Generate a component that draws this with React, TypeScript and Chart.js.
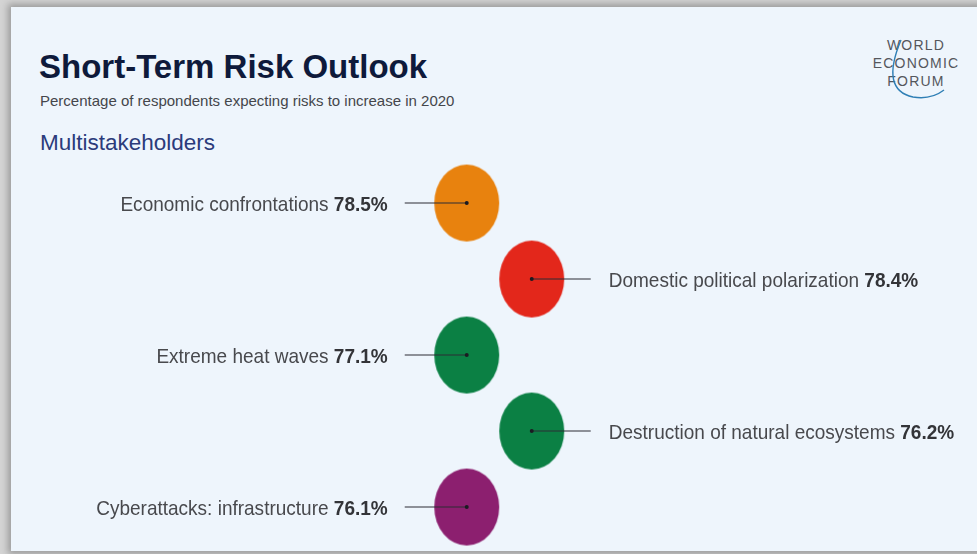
import React, { useEffect, useRef } from "react";
import { Chart, registerables } from "chart.js";

Chart.register(...registerables);

const risks = [
  "Economic confrontations",
  "Domestic political polarization",
  "Extreme heat waves",
  "Destruction of natural ecosystems",
  "Cyberattacks: infrastructure",
];
const shares = [78.5, 78.4, 77.1, 76.2, 76.1];
const columns = [0, 1, 0, 1, 0];
const ranks = [1, 2, 3, 4, 5];
const bubbleColors = ["#E8820E", "#E3271B", "#0B8044", "#0B8044", "#8C1F6F"];

const W = 977;
const H = 554;
const FONT = "'Liberation Sans', Arial, Helvetica, sans-serif";

function ellipseImage(color: string, rx: number, ry: number) {
  const c = document.createElement("canvas");
  c.width = Math.round(rx * 2 + 2);
  c.height = Math.round(ry * 2 + 2);
  const g = c.getContext("2d")!;
  g.fillStyle = color;
  g.beginPath();
  g.ellipse(c.width / 2, c.height / 2, rx, ry, 0, 0, Math.PI * 2);
  g.fill();
  return c;
}

const labelPlugin = {
  id: "riskLabels",
  afterDatasetsDraw(chart: any) {
    const ctx = chart.ctx as CanvasRenderingContext2D;
    const meta = chart.getDatasetMeta(0);
    const fs = 21;
    const sx = 0.905;
    meta.data.forEach((pt: any, i: number) => {
      const x = pt.x;
      const y = pt.y;
      const left = columns[i] === 0;
      ctx.save();
      ctx.strokeStyle = "#2d2d35";
      ctx.lineWidth = 1.1;
      ctx.beginPath();
      if (left) {
        ctx.moveTo(x - 62, y);
        ctx.lineTo(x, y);
      } else {
        ctx.moveTo(x, y);
        ctx.lineTo(x + 59, y);
      }
      ctx.stroke();
      ctx.fillStyle = "#1b1b22";
      ctx.beginPath();
      ctx.arc(x, y, 2, 0, Math.PI * 2);
      ctx.fill();
      ctx.restore();

      const name = risks[i] + " ";
      const val = shares[i].toFixed(1) + "%";
      ctx.save();
      const base = y + 7.5;
      const anchor = left ? x - 79 : x + 77;
      ctx.translate(anchor, base);
      ctx.scale(sx, 1);
      ctx.textBaseline = "alphabetic";
      ctx.font = `bold ${fs}px ${FONT}`;
      const vw = ctx.measureText(val).width;
      ctx.font = `${fs}px ${FONT}`;
      const nw = ctx.measureText(name).width;
      const startX = left ? -(vw + nw) : 0;
      ctx.textAlign = "left";
      ctx.fillStyle = "#48494d";
      ctx.fillText(name, startX, 0);
      ctx.font = `bold ${fs}px ${FONT}`;
      ctx.fillStyle = "#333438";
      ctx.fillText(val, startX + nw, 0);
      ctx.restore();
    });
  },
};

export default function App() {
  const ref = useRef<HTMLCanvasElement | null>(null);

  useEffect(() => {
    if (!ref.current) return;
    const images = bubbleColors.map((c) => ellipseImage(c, 32.5, 38.5));
    const chart = new Chart(ref.current, {
      type: "scatter",
      data: {
        datasets: [
          {
            label: "Share of respondents",
            data: columns.map((c, i) => ({ x: c, y: ranks[i] })),
            pointStyle: images as any,
            pointRadius: 38,
            pointHoverRadius: 38,
            backgroundColor: bubbleColors,
            borderWidth: 0,
            clip: false as any,
          },
        ],
      },
      options: {
        responsive: false,
        animation: false,
        devicePixelRatio: 1,
        layout: { padding: 0, autoPadding: false },
        events: [],
        plugins: {
          legend: { display: false },
          tooltip: { enabled: false },
          title: { display: false },
        },
        scales: {
          x: { type: "linear", display: false, min: -7.18, max: 7.85 },
          y: { type: "linear", display: false, reverse: true, min: -1.671, max: 5.618 },
        },
      },
      plugins: [labelPlugin],
    });
    return () => chart.destroy();
  }, []);

  return (
    <div
      style={{
        position: "absolute",
        left: 0,
        top: 0,
        width: W,
        height: H,
        overflow: "hidden",
        background: "#d4d4d4",
        fontFamily: FONT,
      }}
    >
      <div
        style={{
          position: "absolute",
          left: 11,
          top: 7,
          width: 990,
          height: 544,
          background: "#EEF5FC",
          boxShadow: "0 0 7px 3px rgba(0,0,0,0.28)",
        }}
      />
      <div
        style={{
          position: "absolute",
          left: 39,
          top: 50,
          fontSize: 33,
          lineHeight: "33px",
          fontWeight: "bold",
          color: "#0E1A3B",
          whiteSpace: "nowrap",
        }}
      >
        Short-Term Risk Outlook
      </div>
      <div
        style={{
          position: "absolute",
          left: 40,
          top: 93,
          fontSize: 15,
          lineHeight: "15px",
          color: "#44464b",
          whiteSpace: "nowrap",
        }}
      >
        Percentage of respondents expecting risks to increase in 2020
      </div>
      <div
        style={{
          position: "absolute",
          left: 40,
          top: 132,
          fontSize: 22.5,
          lineHeight: "22.5px",
          color: "#2B3B7B",
          whiteSpace: "nowrap",
        }}
      >
        Multistakeholders
      </div>
      <div
        style={{
          position: "absolute",
          left: 856,
          top: 36,
          width: 120,
          textAlign: "center",
          fontSize: 14,
          color: "#55575c",
          letterSpacing: "1.2px",
          lineHeight: "18px",
        }}
      >
        <div>WORLD</div>
        <div>ECONOMIC</div>
        <div>FORUM</div>
      </div>
      <svg
        width={W}
        height={H}
        style={{ position: "absolute", left: 0, top: 0, pointerEvents: "none" }}
      >
        <path
          d="M 901 40 Q 880 90 913 97 Q 931 100 944 90"
          fill="none"
          stroke="#2f7fb5"
          strokeWidth={1.4}
        />
      </svg>
      <canvas
        ref={ref}
        width={W}
        height={H}
        style={{ position: "absolute", left: 0, top: 0, width: W, height: H }}
      />
    </div>
  );
}
